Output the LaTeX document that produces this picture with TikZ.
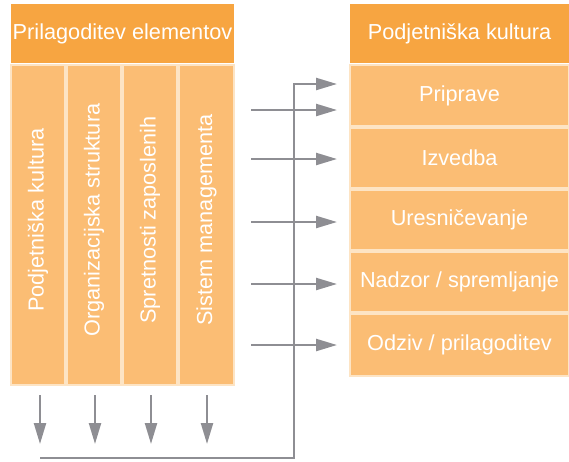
\documentclass[tikz,border=0pt]{standalone}
\usepackage{fontspec}
\setmainfont{Liberation Sans}
\usetikzlibrary{arrows.meta}
\definecolor{hdr}{RGB}{247,165,65}
\definecolor{cell}{RGB}{251,189,116}
\definecolor{seam}{RGB}{253,228,196}
\definecolor{flow}{RGB}{142,142,147}
\begin{document}
\begin{tikzpicture}[x=1pt,y=-1pt,
  box/.style={draw=seam, line width=1.2pt, fill=cell, inner sep=0pt, outer sep=0pt,
              text=white, font=\fontsize{21.7}{26}\selectfont},
  head/.style={box, fill=hdr, draw=none},
  collabel/.style={rotate=90, text=white, inner sep=0pt, font=\fontsize{21.7}{26}\selectfont},
  flowline/.style={draw=flow, line width=2.3pt},
  arr/.style={flowline, -{Triangle[length=21pt,width=12pt]}}]
\useasboundingbox (0,0) rectangle (569,461);

% left block: header and four columns
\node[head, minimum width=223pt, minimum height=59pt] (lh) at (122.5,33.5) {Prilagoditev elementov};
\node[box, minimum width=54pt, minimum height=320pt] (c1) at (38,225) {};
\node[box, minimum width=54pt, minimum height=320pt] (c2) at (94,225) {};
\node[box, minimum width=54pt, minimum height=320pt] (c3) at (150,225) {};
\node[box, minimum width=55pt, minimum height=320pt] (c4) at (206.5,225) {};
\node[collabel] (t1) at (38,220) {Podjetniška kultura};
\node[collabel] (t2) at (94,220) {Organizacijska struktura};
\node[collabel] (t3) at (150,220) {Spretnosti zaposlenih};
\node[collabel] (t4) at (206.5,220) {Sistem managementa};

% right block: header and five stages
\node[head, minimum width=219pt, minimum height=59pt] (rh) at (459.5,33.5) {Podjetniška kultura};
\node[box, minimum width=219pt, minimum height=61pt] (p1) at (459.5,95.5) {Priprave};
\node[box, minimum width=219pt, minimum height=60pt] (p2) at (459.5,158) {Izvedba};
\node[box, minimum width=219pt, minimum height=60pt] (p3) at (459.5,220) {Uresničevanje};
\node[box, minimum width=219pt, minimum height=60pt] (p4) at (459.5,282) {Nadzor / spremljanje};
\node[box, minimum width=219pt, minimum height=62pt] (p5) at (459.5,345) {Odziv / prilagoditev};

% arrow ends
\coordinate (tip) at ([xshift=-13pt]p1.west);
\foreach \i/\y in {1/110,2/159,3/222,4/284,5/345}
  \coordinate (s\i) at (251,\y);
\foreach \i/\x in {1/40,2/95,3/151,4/207}{
  \coordinate (d\i) at (\x,395);
  \coordinate (e\i) at (\x,444);
}
\coordinate (fb) at (40,458);
\coordinate (turn) at (294,84);

% feedback loop
\draw[arr] (fb) -| (turn) -- (tip |- turn);

% inputs to the stages
\foreach \i in {1,...,5}
  \draw[arr] (s\i) -- (tip |- s\i);

% outputs of the columns
\foreach \i in {1,...,4}
  \draw[arr] (d\i) -- (e\i);
\end{tikzpicture}
\end{document}
